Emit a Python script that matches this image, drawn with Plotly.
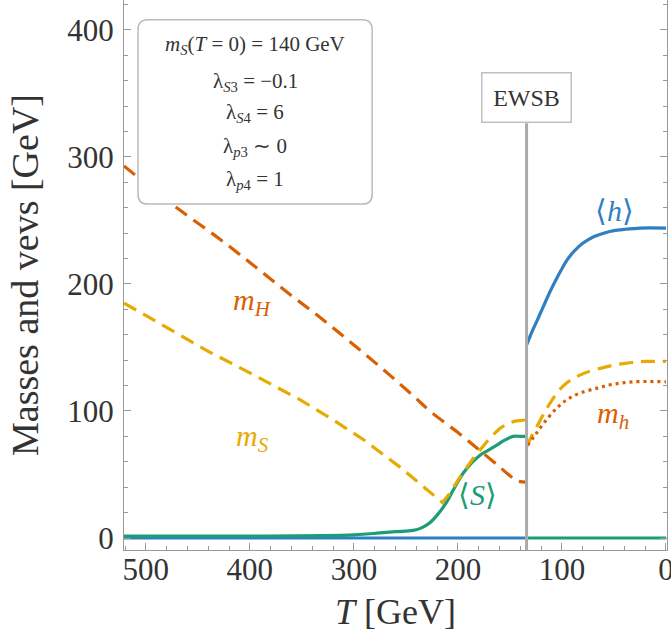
import plotly.graph_objects as go

# ---- data ----
T_mH = [521, 500, 467, 430, 397, 365, 333, 300, 268, 243, 227, 200, 179, 160, 150, 143, 134]
mH = [293, 279, 258, 236, 215, 194, 174, 152, 130, 112, 100, 83, 69, 56, 49, 45, 44]

T_mS_sym = [521, 480, 440, 400, 352, 320, 290, 256, 235, 215, 208, 198, 186, 179, 169, 160, 153, 145, 134]
mS_sym = [185, 166, 147, 130, 109, 93, 77, 56, 42, 28, 35, 48, 62, 69, 79, 86, 90, 92, 93]

T_S_sym = [521, 400, 300, 275, 260, 243, 235, 227, 219, 211, 203, 195, 187, 179, 171, 163, 155, 147, 140, 134]
S_sym = [1.5, 1.5, 2.5, 4, 5, 6, 8, 12, 19, 28, 40, 51, 59, 65, 69, 73, 77, 80, 80, 80]

T_h_sym = [521, 134]
h_sym = [0, 0]

T_h_brk = [134, 129, 124, 118, 112, 106, 100, 95, 88, 80, 70, 60, 50, 40, 25, 0]
h_brk = [152, 162, 171, 182, 193, 203, 212, 219, 226, 232, 237, 240, 242, 243, 244, 244]

T_mS_brk = [134, 128, 122, 116, 110, 102, 94, 86, 78, 66, 51, 35, 20, 0]
mS_brk = [72, 82, 91, 100, 108, 117, 123, 127, 130, 133, 136, 138, 139, 139]

T_mh_brk = [133, 125, 114, 104, 95, 83, 66, 51, 30, 0]
mh_brk = [73, 82, 94, 103, 109, 114, 118, 121, 123, 123]

T_S_brk = [134, 0]
S_brk = [0, 0]

T_EWSB = 134

curve_labels = ["<i>m</i><sub><i>H</i></sub>", "<i>m</i><sub><i>S</i></sub>",
                "⟨<i>S</i>⟩", "⟨<i>h</i>⟩", "<i>m</i><sub><i>h</i></sub>"]
label_T = [397, 397, 181, 49, 51]
label_v = [186, 79, 34, 258, 97]

param_lines = ["<i>m</i><sub><i>S</i></sub>(<i>T</i> = 0) = 140 GeV",
               "λ<sub><i>S</i>3</sub> = −0.1",
               "λ<sub><i>S</i>4</sub> = 6",
               "λ<sub><i>p</i>3</sub> ∼ 0",
               "λ<sub><i>p</i>4</sub> = 1"]

xticks = [500, 400, 300, 200, 100, 0]
xticklabels = ["500", "400", "300", "200", "100", "0"]
yticks = [0, 100, 200, 300, 400]
yticklabels = ["0", "100", "200", "300", "400"]

BLUE = "#2f7fc1"
GREEN = "#1b9e77"
ORANGE = "#d95f02"
YELLOW = "#e6ab02"
FONT = "Liberation Serif"
TXT = "#333333"

fig = go.Figure()
W = 3.2
DASH = "14px,8px"
fig.add_trace(go.Scatter(x=T_h_sym, y=h_sym, mode="lines", line=dict(color=BLUE, width=W)))
fig.add_trace(go.Scatter(x=T_h_brk, y=h_brk, mode="lines", line=dict(color=BLUE, width=W, shape="spline")))
fig.add_trace(go.Scatter(x=T_S_sym, y=S_sym, mode="lines", line=dict(color=GREEN, width=W, shape="spline")))
fig.add_trace(go.Scatter(x=T_S_brk, y=S_brk, mode="lines", line=dict(color=GREEN, width=W)))
fig.add_trace(go.Scatter(x=T_mH, y=mH, mode="lines", line=dict(color=ORANGE, width=W, dash=DASH, shape="spline")))
fig.add_trace(go.Scatter(x=T_mS_sym, y=mS_sym, mode="lines", line=dict(color=YELLOW, width=W, dash=DASH)))
fig.add_trace(go.Scatter(x=T_mS_brk, y=mS_brk, mode="lines", line=dict(color=YELLOW, width=W, dash=DASH, shape="spline")))
fig.add_trace(go.Scatter(x=T_mh_brk, y=mh_brk, mode="lines", line=dict(color=ORANGE, width=W, dash="3px,4px", shape="spline")))

label_colors = [ORANGE, YELLOW, GREEN, BLUE, ORANGE]
for txt, tx, ty, c in zip(curve_labels, label_T, label_v, label_colors):
    fig.add_annotation(x=tx, y=ty, text=txt, showarrow=False, xanchor="center", yanchor="middle",
                       font=dict(family=FONT, size=30, color=c))

# EWSB vertical line and box
fig.add_shape(type="line", xref="x", yref="paper", x0=T_EWSB, x1=T_EWSB, y0=0, y1=0.776,
              line=dict(color="#aaaaaa", width=3), layer="above")
fig.add_annotation(x=T_EWSB, xref="x", yref="paper", y=0.822, text="EWSB", showarrow=False,
                   xanchor="center", yanchor="middle",
                   font=dict(family=FONT, size=24, color=TXT),
                   bgcolor="white", bordercolor="#c0c0c0", borderwidth=1.5,
                   width=86, height=46)

# Parameter box (rounded)
x0, x1, y0, y1 = 0.0258, 0.457, 0.629, 0.964
rx, ry = 0.018, 0.018
path = (f"M {x0+rx},{y0} L {x1-rx},{y0} Q {x1},{y0} {x1},{y0+ry} L {x1},{y1-ry} "
        f"Q {x1},{y1} {x1-rx},{y1} L {x0+rx},{y1} Q {x0},{y1} {x0},{y1-ry} "
        f"L {x0},{y0+ry} Q {x0},{y0} {x0+rx},{y0} Z")
fig.add_shape(type="path", path=path, xref="paper", yref="paper",
              fillcolor="white", line=dict(color="#bbbbbb", width=1.5), layer="above")
line_y = [0.918, 0.851, 0.795, 0.733, 0.673]
for txt, py in zip(param_lines, line_y):
    fig.add_annotation(x=0.2413, y=py, xref="paper", yref="paper", text=txt, showarrow=False,
                       xanchor="center", yanchor="middle",
                       font=dict(family=FONT, size=21, color=TXT))

axis_common = dict(showline=True, linecolor="#999999", linewidth=1, ticks="inside",
                   tickcolor="#999999", ticklen=7, tickwidth=1, showgrid=False, zeroline=False,
                   tickfont=dict(family=FONT, size=31, color=TXT), ticklabeloverflow="allow",
                   minor=dict(dtick=20, ticks="inside", ticklen=4, tickcolor="#999999", tickwidth=1))

fig.update_xaxes(range=[521, -1], tickvals=xticks, ticktext=xticklabels,
                 ticklabelstandoff=-8,
                 title=dict(text="<i>T</i> [GeV]", font=dict(family=FONT, size=36, color=TXT), standoff=12),
                 mirror=False, **axis_common)
fig.update_yaxes(range=[-9.45, 423.6], tickvals=yticks, ticktext=yticklabels,
                 ticklabelstandoff=3,
                 title=dict(text="Masses and vevs [GeV]", font=dict(family=FONT, size=38, color=TXT), standoff=16),
                 mirror="ticks", **axis_common)

fig.update_layout(width=671, height=644, showlegend=False,
                  margin=dict(l=124, r=4, t=0, b=94, autoexpand=False),
                  plot_bgcolor="white", paper_bgcolor="white")

fig.write_html("out.html", config={"displayModeBar": False},
               post_script="document.body.style.margin='0';document.body.style.overflow='hidden';")
